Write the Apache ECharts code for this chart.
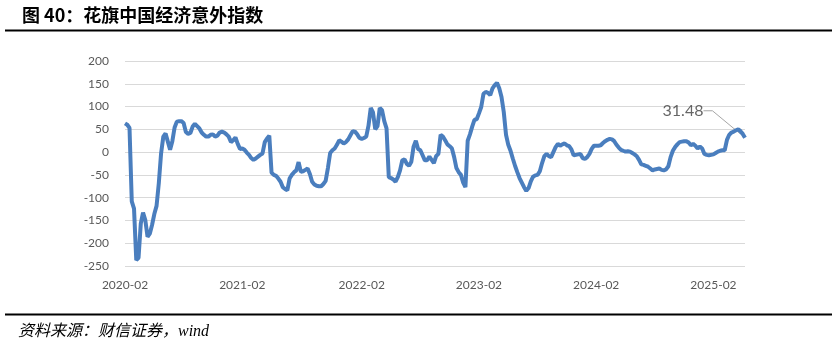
<!DOCTYPE html>
<html><head><meta charset="utf-8">
<script src="https://cdn.jsdelivr.net/npm/echarts@6/dist/echarts.min.js"></script>
<style>html,body{margin:0;padding:0;background:#fff}#c{width:840px;height:347px}</style>
</head><body><div id="c"></div>
<script>
// Weekly observations starting 2020-02-03 (Monday)
const startDate = [2020, 1, 3];
const values = [
  63, 60, 53, -108, -124, -237, -232, -157, -133, -149,
  -186, -179, -160, -136, -118, -68, -3, 34, 41, 23,
  5, 24, 54, 67, 68, 68, 64, 44, 40, 42,
  56, 62, 57, 52, 43, 38, 34, 34, 38, 39,
  34, 36, 43, 45, 43, 39, 34, 22, 26, 32,
  18, 7, 8, 5, -1, -6, -13, -17, -14, -10,
  -6, -3, 22, 30, 36, -45, -50, -52, -58, -65,
  -77, -81, -84, -58, -50, -44, -40, -22, -43, -42,
  -39, -36, -48, -65, -71, -74, -75, -75, -70, -63,
  -35, -2, 4, 8, 16, 26, 23, 19, 22, 28,
  37, 46, 45, 39, 31, 29, 31, 34, 58, 97,
  87, 50, 57, 97, 92, 68, 52, -55, -57, -60,
  -65, -55, -40, -18, -16, -26, -30, -21, 12, 25,
  7, 4, -7, -18, -18, -10, -17, -24, -9, -4,
  38, 34, 26, 17, 13, 8, -11, -35, -44, -50,
  -67, -77, 25, 39, 56, 71, 72, 85, 99, 128,
  132, 130, 125, 140, 147, 152, 140, 121, 88, 38,
  16, 3, -14, -30, -44, -57, -67, -77, -85, -79,
  -64, -54, -51, -50, -42, -24, -9, -4, -9, -11,
  0, 11, 18, 14, 17, 19, 15, 13, 6, -7,
  -6, -5, -4, -13, -15, -11, -4, 7, 14, 14,
  14, 15, 20, 24, 27, 29, 28, 24, 16, 10,
  5, 3, 1, 2, 1, -2, -5, -9, -17, -27,
  -28, -30, -32, -36, -40, -38, -37, -36, -39, -40,
  -38, -31, -11, 3, 11, 17, 22, 23, 24, 24,
  21, 15, 18, 14, 8, 12, 8, -4, -6, -7,
  -6, -5, -2, 1, 3, 4, 4, 27, 38, 43,
  45, 48, 50, 46, 40, 31.48
];
const lastLabel = '31.48';
const yMin = -250, yMax = 200, yStep = 50;
const titleText = '图 40：花旗中国经济意外指数';
const sourceText = '资料来源：财信证券，wind';

const dates = [];
const t0 = Date.UTC(startDate[0], startDate[1], startDate[2]);
for (let i = 0; i < values.length; i++) {
  dates.push(new Date(t0 + i * 7 * 86400000).toISOString().slice(0, 10));
}
const last = values.length - 1;

const chart = echarts.init(document.getElementById('c'));
chart.setOption({
  animation: false,
  backgroundColor: '#fff',
  title: {
    text: titleText, left: 17, top: 1,
    textStyle: { fontSize: 18, fontWeight: 'bold', color: '#000', fontFamily: 'Noto Sans CJK SC' }
  },
  graphic: [
    { type: 'line', shape: { x1: 5, y1: 30.5, x2: 832, y2: 30.5 }, style: { stroke: '#000', lineWidth: 2 } },
    { type: 'line', shape: { x1: 5, y1: 314.5, x2: 832, y2: 314.5 }, style: { stroke: '#000', lineWidth: 2 } },
    { type: 'text', left: 18, top: 324, style: { text: sourceText, fontSize: 16, fontStyle: 'italic', fill: '#000', fontFamily: '"Liberation Serif","Noto Sans CJK SC"' } }
  ],
  grid: { left: 125, right: 95, top: 61, bottom: 81, containLabel: false },
  xAxis: {
    type: 'category', data: dates, boundaryGap: false,
    axisLine: { show: false }, axisTick: { show: false },
    axisLabel: {
      interval: function (i, v) { return v.slice(5, 7) === '02' && +v.slice(8, 10) <= 7; },
      formatter: function (v) { return v.slice(0, 7); },
      color: '#595959', fontSize: 12, fontFamily: 'Lato', margin: 13
    },
    splitLine: { show: false }
  },
  yAxis: {
    type: 'value', min: yMin, max: yMax, interval: yStep,
    axisLine: { show: false }, axisTick: { show: false },
    axisLabel: { color: '#595959', fontSize: 12, fontFamily: 'Lato', margin: 16 },
    splitLine: { lineStyle: { color: '#d9d9d9', width: 1 } }
  },
  series: [
    {
      type: 'line', data: values, showSymbol: false, symbol: 'none',
      lineStyle: { color: '#4a7ebe', width: 4 }, silent: true
    },
    {
      type: 'scatter', data: [[dates[last], values[last]]], symbolSize: 12,
      itemStyle: { color: 'rgba(0,0,0,0)' }, silent: true,
      label: { show: true, formatter: lastLabel, position: 'inside', fontSize: 16, color: '#404040', fontFamily: 'Lato', padding: [0, 5] },
      labelLayout: { dx: -62, dy: -27 },
      labelLine: { show: true, length2: 9, lineStyle: { color: '#a6a6a6', width: 1 } }
    }
  ]
});
</script></body></html>
